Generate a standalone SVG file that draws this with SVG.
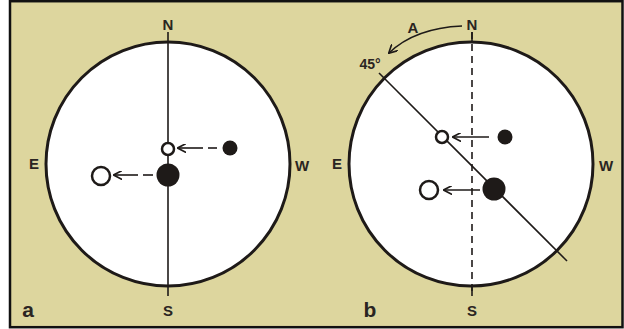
<svg xmlns="http://www.w3.org/2000/svg" width="624" height="329" viewBox="0 0 624 329">
<defs>
<style>
.lbl{font-family:"Liberation Sans",Arial,sans-serif;font-weight:bold;fill:#2a2522;text-anchor:middle}
.ring{fill:#fff;stroke:#1e1a18;stroke-width:3}
.ax{stroke:#1e1a18;stroke-width:1.6;fill:none}
.open{fill:#fff;stroke:#1e1a18;stroke-width:2.5}
.dot{fill:#1e1a18}
.arr{stroke:#1e1a18;stroke-width:1.6;fill:none}
</style>
<marker id="ah" viewBox="0 0 10 10" refX="9" refY="5" markerWidth="9" markerHeight="9" markerUnits="userSpaceOnUse" orient="auto">
<path d="M0,0 L9.5,5 L0,10" fill="none" stroke="#1e1a18" stroke-width="1.8"/>
</marker>
</defs>
<rect x="0" y="0" width="624" height="329" fill="#fff"/>
<rect x="10" y="1.2" width="612.5" height="326" fill="#ddd69e" stroke="#111" stroke-width="2.5"/>

<g id="panel-a">
<circle class="ring" cx="168" cy="164" r="122"/>
<line class="ax" x1="168" y1="32" x2="168" y2="296"/>
<text class="lbl" x="168" y="30" font-size="15">N</text>
<text class="lbl" x="168" y="316" font-size="15">S</text>
<text class="lbl" x="34" y="169" font-size="15">E</text>
<text class="lbl" x="302" y="171" font-size="15">W</text>
<text class="lbl" x="28" y="317" font-size="21">a</text>
</g>
<g id="connectors-a">
<line class="arr" x1="217" y1="148" x2="208" y2="148"/>
<line class="arr" x1="203" y1="148" x2="178" y2="148" marker-end="url(#ah)"/>
<line class="arr" x1="153" y1="175" x2="143" y2="175"/>
<line class="arr" x1="138" y1="175" x2="114" y2="175" marker-end="url(#ah)"/>
</g>
<g id="a-small-open"><circle class="open" cx="168" cy="149" r="6"/></g>
<g id="a-small-filled"><circle class="dot" cx="230" cy="148" r="7.5"/></g>
<g id="a-large-filled"><circle class="dot" cx="168" cy="175" r="11.5"/></g>
<g id="a-large-open"><circle class="open" cx="101" cy="176" r="9"/></g>

<g id="panel-b">
<circle class="ring" cx="471" cy="164" r="122"/>
<line class="ax" x1="472" y1="32" x2="472" y2="296" stroke-dasharray="7,5"/>
<line class="ax" x1="472" y1="32" x2="472" y2="42"/>
<line class="ax" x1="472" y1="286" x2="472" y2="296"/>
<line class="ax" x1="379" y1="73" x2="567" y2="261"/>
<text class="lbl" x="472" y="30" font-size="15">N</text>
<text class="lbl" x="472" y="316" font-size="15">S</text>
<text class="lbl" x="337" y="169" font-size="15">E</text>
<text class="lbl" x="606" y="171" font-size="15">W</text>
<text class="lbl" x="413" y="33" font-size="15">A</text>
<text class="lbl" x="370" y="69" font-size="14">45°</text>
<text class="lbl" x="370" y="317" font-size="21">b</text>
</g>
<g id="connectors-b">
<path class="arr" d="M462,26 Q415,28 389,53" marker-end="url(#ah)"/>
<line class="arr" x1="489" y1="137" x2="453" y2="137" marker-end="url(#ah)"/>
<line class="arr" x1="480" y1="190" x2="444" y2="190" marker-end="url(#ah)"/>
</g>
<g id="b-small-open"><circle class="open" cx="442" cy="137" r="6"/></g>
<g id="b-small-filled"><circle class="dot" cx="505" cy="137" r="7.5"/></g>
<g id="b-large-filled"><circle class="dot" cx="494" cy="189" r="11.5"/></g>
<g id="b-large-open"><circle class="open" cx="429" cy="190" r="9"/></g>
</svg>
